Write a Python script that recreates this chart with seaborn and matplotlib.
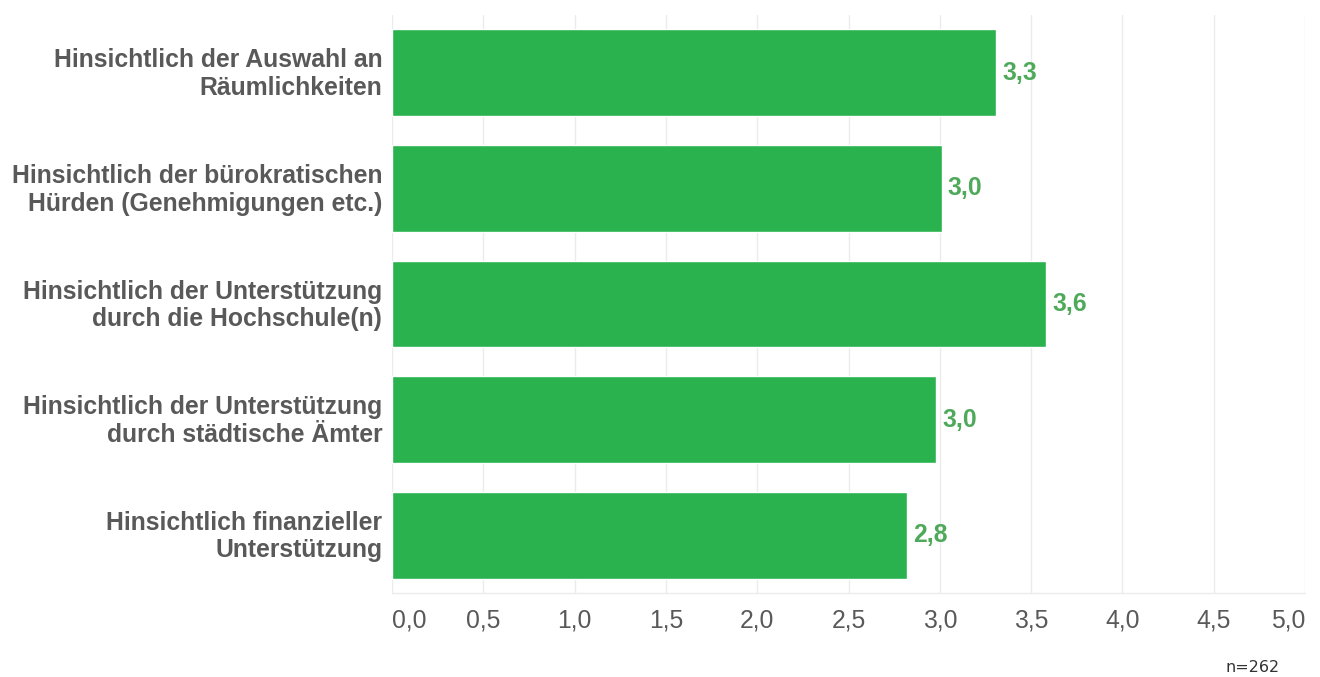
import matplotlib
matplotlib.use("Agg")
import matplotlib.pyplot as plt
import matplotlib.transforms as mtransforms
import seaborn as sns
import pandas as pd

# --- Daten ---
kategorien = [
    "Hinsichtlich der Auswahl an\nRäumlichkeiten",
    "Hinsichtlich der bürokratischen\nHürden (Genehmigungen etc.)",
    "Hinsichtlich der Unterstützung\ndurch die Hochschule(n)",
    "Hinsichtlich der Unterstützung\ndurch städtische Ämter",
    "Hinsichtlich finanzieller\nUnterstützung",
]
werte = [3.31, 3.01, 3.58, 2.98, 2.82]
x_ticks = [0.0, 0.5, 1.0, 1.5, 2.0, 2.5, 3.0, 3.5, 4.0, 4.5, 5.0]
anzahl = "n=262"

balken_farbe = "#2ab24e"
label_farbe = "#4fa95a"
text_farbe = "#595959"
grid_farbe = "#ebebeb"
schrift = 17.8

sns.set_theme(style="white")
plt.rcParams["font.family"] = ["Liberation Sans", "DejaVu Sans"]

df = pd.DataFrame({"kategorie": kategorien, "wert": werte})

fig = plt.figure(figsize=(13.2, 6.77), dpi=100)
ax = fig.add_axes([392 / 1320, 1 - 593 / 677, (1305 - 392) / 1320, (593 - 15) / 677])

sns.barplot(data=df, x="wert", y="kategorie", orient="h", color=balken_farbe,
            saturation=1, width=0.75, ax=ax, zorder=2)

ax.set_xlim(0, 5)
ax.set_ylim(4.5, -0.5)
ax.set_xlabel("")
ax.set_ylabel("")

ax.set_xticks(x_ticks)
ax.set_xticklabels([f"{t:.1f}".replace(".", ",") for t in x_ticks])
ax.tick_params(axis="x", length=5, width=1, color=grid_farbe, pad=6,
               labelsize=schrift, labelcolor=text_farbe)
ticklabels = ax.get_xticklabels()
ticklabels[0].set_horizontalalignment("left")
ticklabels[-1].set_horizontalalignment("right")

# Kategorien etwas nach oben versetzt, wie im Original
hoch = mtransforms.ScaledTranslation(0, 3 / 100, fig.dpi_scale_trans)
ax.tick_params(axis="y", length=0, pad=7)
for lab in ax.get_yticklabels():
    lab.set_fontsize(schrift)
    lab.set_fontweight("bold")
    lab.set_color(text_farbe)
    lab.set_multialignment("right")
    lab.set_linespacing(1.2)
    lab.set_transform(lab.get_transform() + hoch)

ax.grid(axis="x", color=grid_farbe, linewidth=1, zorder=0)
for side in ["top", "right", "left"]:
    ax.spines[side].set_visible(False)
ax.spines["bottom"].set_color(grid_farbe)
ax.spines["bottom"].set_linewidth(1)

for i, v in enumerate(werte):
    ax.annotate(f"{v:.1f}".replace(".", ","), xy=(v, i), xytext=(4.5, 0),
                textcoords="offset points", va="center", ha="left",
                fontsize=schrift, fontweight="bold", color=label_farbe)

fig.text(1280 / 1320, 1 - 668 / 677, anzahl, ha="right", va="center",
         fontsize=11.5, color="#333333", family=["DejaVu Sans"])

fig.savefig("out.png", dpi=100)
